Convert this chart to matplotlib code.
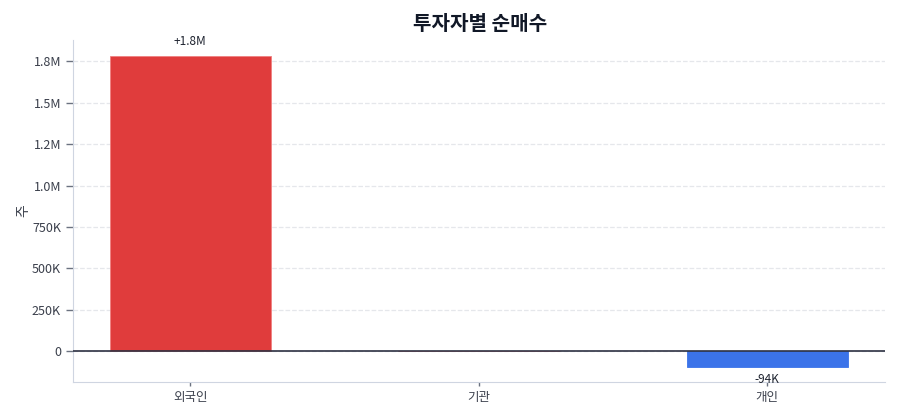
import matplotlib
matplotlib.use("Agg")
import matplotlib.pyplot as plt
import numpy as np

plt.rcParams['font.family'] = ['Noto Sans CJK KR', 'DejaVu Sans']

# 투자자별 순매수 (주)
investors = ['외국인', '기관', '개인']
net_buy = [1780000, 0, -94000]
bar_labels = ['+1.8M', '', '-94K']
bar_colors = ['#e03c3c', '#3b73e9', '#3b73e9']

y_ticks = [0, 250000, 500000, 750000, 1000000, 1250000, 1500000, 1750000]
y_tick_labels = ['0', '250K', '500K', '750K', '1.0M', '1.2M', '1.5M', '1.8M']

fig = plt.figure(figsize=(9, 4.2), dpi=100)
ax = fig.add_axes([0.081, 0.0905, 0.902, 0.8145])

x = np.arange(len(investors))
bars = ax.bar(x, net_buy, width=0.56, color=bar_colors, edgecolor='#f08080', linewidth=0.6, zorder=3)
bars[2].set_edgecolor('#3b73e9')

# 0 기준선
ax.axhline(0, color='#2d3142', linewidth=1.2, zorder=4)

for i, (v, lab) in enumerate(zip(net_buy, bar_labels)):
    if not lab:
        continue
    if v >= 0:
        ax.text(i, v + 50000, lab, ha='center', va='bottom', fontsize=8.5, color='#1f2430')
    else:
        ax.text(i, v - 40000, lab, ha='center', va='top', fontsize=8.5, color='#1f2430')

ax.set_xlim(-0.407, 2.407)
ax.set_ylim(-187000, 1880000)
ax.set_xticks(x)
ax.set_xticklabels(investors, fontsize=9, color='#3a3f4b')
ax.set_yticks(y_ticks)
ax.set_yticklabels(y_tick_labels, fontsize=9, color='#3a3f4b')
ax.tick_params(axis='y', length=5, color='#6b7280', width=1)
ax.tick_params(axis='x', length=3, color='#6b7280', width=1)

ax.grid(axis='y', linestyle='--', color='#e5e7eb', linewidth=0.9, zorder=0)
ax.set_axisbelow(True)

for s in ['top', 'right']:
    ax.spines[s].set_visible(False)
ax.spines['left'].set_color('#cfd5e1')
ax.spines['bottom'].set_color('#cfd5e1')

ax.set_ylabel('주', fontsize=10, color='#3a3f4b', labelpad=1)
fig.suptitle('투자자별 순매수', fontsize=14.5, fontweight='bold', color='#111827', x=0.533, y=0.97)

fig.savefig('out.png', dpi=100)
